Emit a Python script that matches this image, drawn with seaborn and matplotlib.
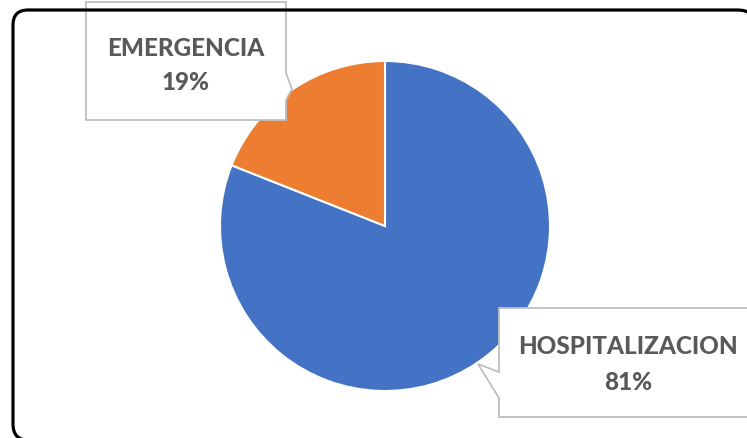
import matplotlib
matplotlib.use("Agg")
import matplotlib.pyplot as plt
from matplotlib.patches import Polygon, PathPatch
from matplotlib.path import Path
import seaborn as sns

categories = ["HOSPITALIZACION", "EMERGENCIA"]
values = [81, 19]
pct_labels = ["81%", "19%"]
colors = ["#4472C4", "#ED7D31"]

sns.set_style("white")
plt.rcParams["font.family"] = ["Lato", "DejaVu Sans"]

W, H = 747, 438
fig = plt.figure(figsize=(W / 100, H / 100), dpi=100)
fig.patch.set_facecolor("white")

# pie axes (center 385,226, radius 165 px)
cx, cy, r = 385, 226, 165
ax = fig.add_axes([(cx - r) / W, (H - cy - r) / H, 2 * r / W, 2 * r / H])
ax.pie(values, colors=colors, startangle=90, counterclock=False,
       wedgeprops=dict(edgecolor="white", linewidth=1.5))
ax.set_xlim(-1, 1)
ax.set_ylim(-1, 1)
ax.set_aspect("equal")
ax.axis("off")

# overlay in pixel coordinates
ov = fig.add_axes([0, 0, 1, 1], zorder=5)
ov.set_xlim(0, W)
ov.set_ylim(H, 0)
ov.axis("off")
ov.patch.set_alpha(0)

box_color = "#BFBFBF"
txt_color = "#595959"

callouts = {
    "EMERGENCIA": dict(
        verts=[(86, 2), (286, 2), (286, 73), (292, 89), (286, 100), (286, 120), (86, 120)],
        text_xy=(186, 48), pct_xy=(186, 83)),
    "HOSPITALIZACION": dict(
        verts=[(499, 308), (760, 308), (760, 417), (499, 417), (499, 398), (478, 364), (499, 372)],
        text_xy=(628, 347), pct_xy=(628, 382)),
}

for cat, pct in zip(categories, pct_labels):
    c = callouts[cat]
    ov.add_patch(Polygon(c["verts"], closed=True, facecolor="white",
                         edgecolor=box_color, linewidth=1.3, joinstyle="miter"))
    ov.text(*c["text_xy"], cat, ha="center", va="center", fontsize=17.5,
            fontweight="black", color=txt_color)
    ov.text(*c["pct_xy"], pct, ha="center", va="center", fontsize=17.5,
            fontweight="black", color=txt_color)

# outer rounded frame (only the visible part of it)
frame_verts = [(28, 440), (13, 440), (13, 424),
               (13, 25),
               (13, 10), (28, 10),
               (737, 10),
               (747, 10), (750, 14)]
frame_codes = [Path.MOVETO, Path.CURVE3, Path.CURVE3,
               Path.LINETO,
               Path.CURVE3, Path.CURVE3,
               Path.LINETO,
               Path.CURVE3, Path.CURVE3]
ov.add_patch(PathPatch(Path(frame_verts, frame_codes), facecolor="none",
                       edgecolor="black", linewidth=2.3, capstyle="butt"))

fig.savefig("out.png", dpi=100)
